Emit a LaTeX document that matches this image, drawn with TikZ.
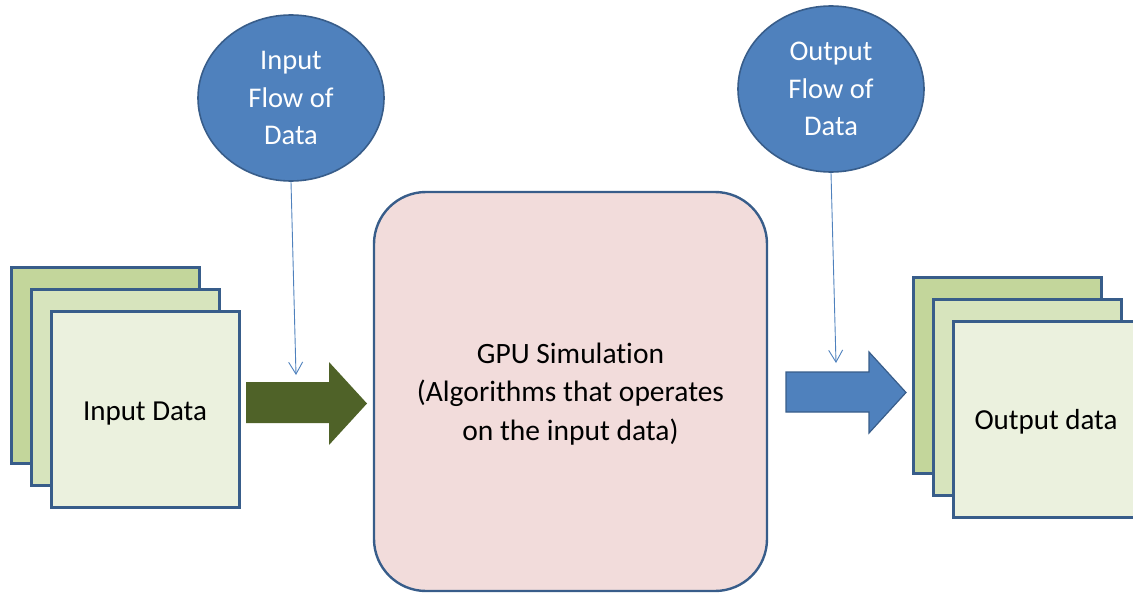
\documentclass[tikz,border=0pt]{standalone}
\usepackage{fontspec}
\setmainfont[Ligatures={NoCommon}]{Carlito}
\usetikzlibrary{shapes.geometric,arrows.meta}
\definecolor{edgeblue}{HTML}{385D8A}
\definecolor{fillblue}{HTML}{4F81BD}
\definecolor{sheetA}{HTML}{C3D69B}
\definecolor{sheetB}{HTML}{D7E4BD}
\definecolor{sheetC}{HTML}{EBF1DE}
\definecolor{simfill}{HTML}{F2DCDB}
\definecolor{olive}{HTML}{4F6228}
\tikzset{
  sheet/.style={draw=edgeblue, line width=3pt, minimum width=188pt, minimum height=196pt, inner sep=0pt},
  flowbubble/.style={ellipse, draw=edgeblue, line width=1.6pt, fill=fillblue, text=white,
    minimum width=186pt, minimum height=166pt, inner sep=0pt, align=center,
    font=\fontsize{28.5}{37.5}\selectfont},
  simbox/.style={draw=edgeblue, line width=2.4pt, fill=simfill, rounded corners=52pt,
    minimum width=393pt, minimum height=399pt, inner sep=0pt},
  simtext/.style={align=center, font=\fontsize{29.5}{38.5}\selectfont},
  label/.style={font=\fontsize{29}{32}\selectfont},
  feed/.style={draw=fillblue, line width=0.9pt, -{Straight Barb[length=12pt,width=14pt,line width=0.9pt]}},
}
\begin{document}
\begin{tikzpicture}[x=1pt,y=-1pt]
\useasboundingbox (0,0) rectangle (1133,594);
\clip (0,0) rectangle (1133,594);

% input stack of sheets
\node[sheet, fill=sheetA] (inA) at (105.5,365) {};
\node[sheet, fill=sheetB] (inB) at (125.5,387) {};
\node[sheet, fill=sheetC] (inC) at (145,409) {};
\node[label] (inlabel) at (145,414) {Input Data};

% output stack of sheets
\node[sheet, fill=sheetA] (outA) at (1007,375.5) {};
\node[sheet, fill=sheetB] (outB) at (1027,397) {};
\node[sheet, fill=sheetC] (outC) at (1047,419.5) {};
\node[label] (outlabel) at (1046,422) {Output data};

% central processing block
\node[simbox] (sim) at (570.5,391.5) {};
\node[simtext] (simlabel) at (570.5,394) {GPU Simulation\\(Algorithms that operates\\on the input data)};

% block arrows into and out of the simulation
\fill[olive] (246,382) -- (329,382) -- (329,362) -- (367,403.5) -- (329,445) -- (329,423) -- (246,423) -- cycle;
\filldraw[fill=fillblue, draw=edgeblue, line width=1.2pt]
  (786,372) -- (869,372) -- (869,352) -- (906,392.5) -- (869,433) -- (869,412) -- (786,412) -- cycle;

% data flow bubbles
\node[flowbubble] (inflow) at (291,98) {Input\\Flow of\\Data};
\node[flowbubble] (outflow) at (831,89) {Output\\Flow of\\Data};

\coordinate (inend) at (296,375);
\coordinate (outend) at (836,363);
\draw[feed] (inflow.south) -- (inend);
\draw[feed] (outflow.south) -- (outend);
\end{tikzpicture}
\end{document}
